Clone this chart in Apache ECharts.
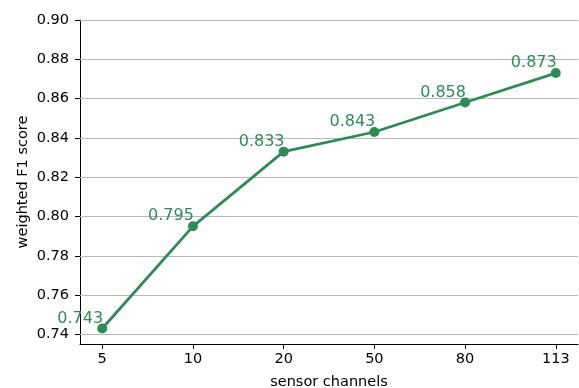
<!DOCTYPE html>
<html>
<head>
<meta charset="utf-8">
<script src="https://cdn.jsdelivr.net/npm/echarts@6/dist/echarts.min.js"></script>
<style>
  html, body { margin: 0; padding: 0; background: #fff; }
  #chart { width: 579px; height: 388px; }
</style>
</head>
<body>
<div id="chart"></div>
<script>
// Weighted F1 score versus number of sensor channels
const channels = ['5', '10', '20', '50', '80', '113'];
const f1Scores = [0.743, 0.795, 0.833, 0.843, 0.858, 0.873];
const yTicks = [0.74, 0.76, 0.78, 0.80, 0.82, 0.84, 0.86, 0.88, 0.90];

const GREEN = '#2e8b57';
const FONT = 'DejaVu Sans';
const xPositions = channels.map((_, i) => i);

const chart = echarts.init(document.getElementById('chart'), null, { renderer: 'canvas' });
chart.setOption({
  animation: false,
  grid: { left: 80, right: 1, top: 20, bottom: 44, containLabel: false, outerBoundsMode: 'none' },
  xAxis: {
    type: 'value',
    min: -0.245,
    max: 5.245,
    name: 'sensor channels',
    nameLocation: 'middle',
    nameGap: 31,
    nameMoveOverlap: false,
    nameTextStyle: { fontFamily: FONT, fontSize: 14.5, color: '#000' },
    axisLine: { show: true, onZero: false, lineStyle: { color: '#000', width: 1 } },
    axisTick: { show: true, inside: false, length: 5, lineStyle: { color: '#000' }, customValues: xPositions },
    axisLabel: {
      fontFamily: FONT, fontSize: 14.5, color: '#000', margin: 8,
      customValues: xPositions,
      formatter: v => channels[Math.round(v)]
    },
    splitLine: { show: false }
  },
  yAxis: {
    type: 'value',
    min: 0.7351,
    max: 0.90,
    name: 'weighted F1 score',
    nameLocation: 'middle',
    nameGap: 49,
    nameMoveOverlap: false,
    nameTextStyle: { fontFamily: FONT, fontSize: 14.5, color: '#000' },
    axisLine: { show: true, onZero: false, lineStyle: { color: '#000', width: 1 } },
    axisTick: { show: true, inside: false, length: 5, lineStyle: { color: '#000' }, customValues: yTicks },
    axisLabel: {
      fontFamily: FONT, fontSize: 14.5, color: '#000', margin: 11,
      customValues: yTicks,
      formatter: v => v.toFixed(2)
    },
    splitLine: { show: false }
  },
  series: [{
    type: 'line',
    data: f1Scores.map((v, i) => [i, v]),
    symbol: 'circle',
    symbolSize: 10,
    lineStyle: { color: GREEN, width: 2.8 },
    itemStyle: { color: GREEN },
    z: 5,
    label: {
      show: true,
      position: 'inside',
      offset: [-22, -10],
      fontFamily: FONT,
      fontSize: 16,
      color: GREEN,
      formatter: p => p.value[1].toFixed(3)
    },
    markLine: {
      silent: true,
      symbol: 'none',
      label: { show: false },
      lineStyle: { color: '#b8b8b8', width: 1.2, type: 'solid' },
      z: 1,
      data: yTicks.map(t => ({ yAxis: t }))
    }
  }]
});
</script>
</body>
</html>
